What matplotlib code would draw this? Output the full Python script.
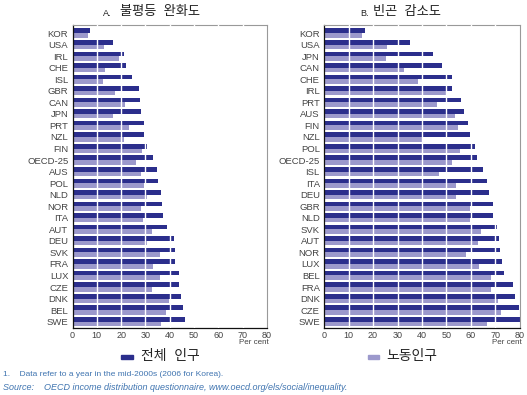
import numpy as np
import matplotlib
matplotlib.use('Agg')
import matplotlib.pyplot as plt

plt.rcParams['font.family'] = ['Liberation Sans', 'Noto Sans CJK KR']

# panel A: inequality reduction
countries_a = ['KOR', 'USA', 'IRL', 'CHE', 'ISL', 'GBR', 'CAN', 'JPN', 'PRT', 'NZL', 'FIN',
               'OECD-25', 'AUS', 'POL', 'NLD', 'NOR', 'ITA', 'AUT', 'DEU', 'SVK', 'FRA',
               'LUX', 'CZE', 'DNK', 'BEL', 'SWE']
total_a = [7.4, 16.5, 21.0, 21.9, 24.3, 27.2, 27.6, 28.2, 29.3, 29.3, 30.7,
           33.0, 34.6, 35.1, 36.3, 36.7, 37.1, 38.9, 41.6, 42.1, 42.1,
           43.7, 43.7, 44.7, 45.6, 46.2]
working_a = [6.2, 13.1, 19.0, 13.3, 12.4, 17.5, 21.4, 16.6, 23.4, 21.3, 28.7,
             26.1, 28.3, 29.6, 30.5, 28.2, 29.1, 32.6, 30.5, 35.9, 33.0,
             35.9, 32.6, 39.5, 38.4, 36.6]

# panel B: poverty reduction
countries_b = ['KOR', 'USA', 'JPN', 'CAN', 'CHE', 'IRL', 'PRT', 'AUS', 'FIN', 'NZL', 'POL',
               'OECD-25', 'ISL', 'ITA', 'DEU', 'GBR', 'NLD', 'SVK', 'AUT', 'NOR', 'LUX',
               'BEL', 'FRA', 'DNK', 'CZE', 'SWE']
total_b = [16.7, 35.0, 44.6, 48.0, 52.2, 52.4, 55.9, 57.0, 58.8, 59.6, 61.5,
           62.4, 64.8, 66.5, 67.3, 68.8, 69.1, 70.5, 71.6, 72.0, 72.5,
           73.5, 77.3, 78.0, 79.6, 80.0]
working_b = [15.6, 25.7, 25.3, 32.7, 38.4, 50.1, 46.0, 53.3, 54.7, 40.3, 55.6,
             52.4, 46.9, 53.7, 53.9, 59.6, 59.6, 64.1, 63.0, 58.0, 63.3,
             68.0, 68.3, 70.9, 72.1, 66.4]

DARK = '#2b2e8c'
LIGHT = '#9c99cc'
GREY = '#444444'
W, H = 527, 395


def draw_panel(ax, countries, total, working):
    y = np.arange(len(countries))
    h = 0.4
    ax.barh(y - h / 2, total, height=h, color=DARK, zorder=2)
    ax.barh(y + h / 2, working, height=h, color=LIGHT, zorder=2)
    for v in range(10, 80, 10):
        ax.axvline(v, color='white', lw=1.0, zorder=3)
    ax.set_xlim(0, 80)
    ax.set_ylim(len(countries) - 0.45, -0.7)
    ax.set_yticks(y)
    ax.set_yticklabels(countries, fontsize=6.8, color=GREY)
    ax.set_xticks(range(0, 90, 10))
    ax.set_xticklabels([str(v) for v in range(0, 90, 10)], fontsize=6.5, color=GREY)
    ax.tick_params(length=0, pad=3)
    ax.tick_params(axis='x', pad=2.5)
    for s in ['top', 'right']:
        ax.spines[s].set_color('#999999')
        ax.spines[s].set_linewidth(0.8)
    for s in ['left', 'bottom']:
        ax.spines[s].set_color('#111111')
        ax.spines[s].set_linewidth(0.9)
    # 'Per cent' sits just under the 70/80 labels
    ax.text(1.01, -11.5 / 303, 'Per cent', transform=ax.transAxes, ha='right', va='top',
            fontsize=5.8, color=GREY)


fig = plt.figure(figsize=(5.27, 3.95), dpi=100)
ax1 = fig.add_axes([72.5 / W, 1 - 328 / H, 194.5 / W, 303 / H])
ax2 = fig.add_axes([324 / W, 1 - 328 / H, 196 / W, 303 / H])

draw_panel(ax1, countries_a, total_a, working_a)
draw_panel(ax2, countries_b, total_b, working_b)

# panel titles
fig.text(103 / W, 1 - 13 / H, 'A.', fontsize=6.5, color='#222222', va='center')
fig.text(120 / W, 1 - 12 / H, '불평등  완화도', fontsize=9.5, color='#222222', va='center')
fig.text(360 / W, 1 - 13 / H, 'B.', fontsize=6.5, color='#222222', va='center')
fig.text(373 / W, 1 - 12 / H, '빈곤  감소도', fontsize=9.5, color='#222222', va='center')

# legend
fig.patches.append(plt.Rectangle((121 / W, 1 - 359 / H), 12 / W, 4 / H,
                                  transform=fig.transFigure, color=DARK))
fig.text(141 / W, 1 - 356 / H, '전체  인구', fontsize=10, va='center', color='#222222')
fig.patches.append(plt.Rectangle((368 / W, 1 - 359 / H), 11 / W, 4 / H,
                                  transform=fig.transFigure, color=LIGHT))
fig.text(386 / W, 1 - 356 / H, '노동인구', fontsize=10, va='center', color='#222222')

# notes
note_c = '#3f74b0'
fig.text(3 / W, 1 - 375 / H, '1.    Data refer to a year in the mid-2000s (2006 for Korea).',
         fontsize=6, color=note_c, va='center')
fig.text(3 / W, 1 - 387 / H,
         'Source:    OECD income distribution questionnaire, www.oecd.org/els/social/inequality.',
         fontsize=6.5, color=note_c, va='center', style='italic')

fig.savefig('out.png', dpi=100)
